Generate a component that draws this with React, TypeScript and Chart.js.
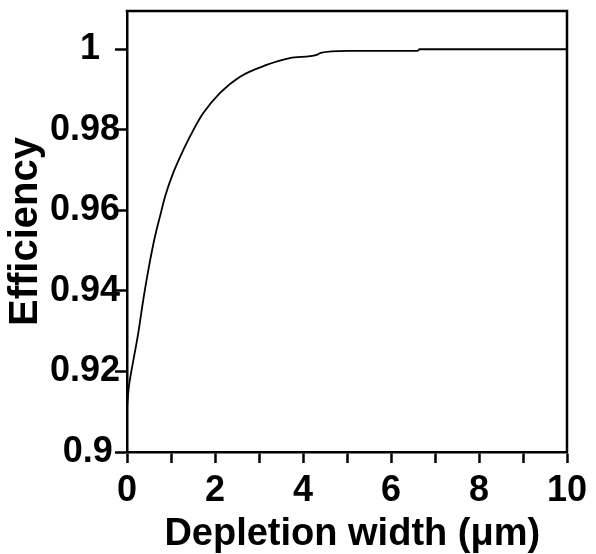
import React, { useEffect, useRef } from "react";
import { Chart, registerables } from "chart.js";

Chart.register(...registerables);

const depletionWidth = [0, 0.015, 0.045, 0.12, 0.257, 0.37, 0.5, 0.636, 0.75, 0.864, 1.05, 1.28, 1.51, 1.73, 2.11, 2.57, 3.17, 3.7, 4.31, 4.4, 5.0, 6.6, 6.65, 10];
const efficiency = [0.911, 0.913, 0.9164, 0.9213, 0.9296, 0.9378, 0.9461, 0.9535, 0.9585, 0.9634, 0.9693, 0.975, 0.98, 0.9841, 0.9891, 0.9932, 0.9961, 0.9978, 0.9986, 0.9991, 0.9996, 0.9996, 1.0, 1.0];
const yTickValues = [0.9, 0.92, 0.94, 0.96, 0.98, 1];
const yTickLabels = ["0.9\u2009", "0.92", "0.94", "0.96", "0.98", "1  "];
const xTickValues = [0, 1, 2, 3, 4, 5, 6, 7, 8, 9, 10];
const xLabelValues = [0, 2, 4, 6, 8, 10];

const FONT = "'Liberation Sans', Arial, sans-serif";

export default function App() {
  const ref = useRef<HTMLCanvasElement>(null);
  useEffect(() => {
    document.body.style.margin = "0";
    const ctx = ref.current!.getContext("2d")!;
    const boxPlugin = {
      id: "box",
      afterDraw(chart: any) {
        const { left, right, top, bottom } = chart.chartArea;
        const c = chart.ctx;
        c.save();
        c.strokeStyle = "#000";
        c.lineWidth = 2.5;
        c.beginPath();
        c.moveTo(left - 1.25, top);
        c.lineTo(right, top);
        c.lineTo(right, bottom);
        c.stroke();
        c.restore();
      },
    };
    const chart = new Chart(ctx, {
      type: "scatter",
      data: {
        datasets: [
          {
            data: depletionWidth.map((x, i) => ({ x, y: efficiency[i] })),
            showLine: true,
            borderColor: "#000",
            borderWidth: 1.8,
            pointRadius: 0,
            cubicInterpolationMode: "monotone",
          },
        ],
      },
      options: {
        animation: false,
        responsive: false,
        events: [],
        layout: { padding: { left: 0, top: 11, right: 29, bottom: 0 } },
        plugins: { legend: { display: false }, tooltip: { enabled: false } },
        scales: {
          x: {
            type: "linear",
            min: 0,
            max: 10,
            afterBuildTicks: (s: any) => {
              s.ticks = xTickValues.map((v) => ({ value: v }));
            },
            afterFit: (s: any) => {
              s.height = 102;
              s.paddingLeft = 0;
              s.paddingRight = 0;
            },
            ticks: {
              autoSkip: false,
              maxRotation: 0,
              color: "#000",
              padding: 6,
              font: { family: FONT, size: 36, weight: "bold" },
              callback: (v: any) => (xLabelValues.includes(Number(v)) ? String(v) : ""),
            },
            grid: { drawOnChartArea: false, drawTicks: true, tickLength: 11, tickWidth: 2.5, color: "#000" },
            border: { display: true, color: "#000", width: 2.5 },
            title: {
              display: true,
              text: " Depletion width (μm)",
              color: "#000",
              font: { family: FONT, size: 38, weight: "bold", lineHeight: 1.0 },
              padding: { top: 0, bottom: 0 },
            },
          },
          y: {
            type: "linear",
            min: 0.9,
            max: 1.0095,
            afterBuildTicks: (s: any) => {
              s.ticks = yTickValues.map((v) => ({ value: v }));
            },
            afterFit: (s: any) => {
              s.width = 127;
              s.paddingTop = 0;
              s.paddingBottom = 0;
            },
            ticks: {
              autoSkip: false,
              color: "#000",
              padding: -5,
              font: { family: FONT, size: 36, weight: "bold" },
              callback: (v: any, i: number) => yTickLabels[i],
            },
            grid: { drawOnChartArea: false, drawTicks: true, tickLength: 12, tickWidth: 2.5, color: "#000" },
            border: { display: true, color: "#000", width: 2.5 },
            title: {
              display: true,
              text: "Efficiency",
              color: "#000",
              font: { family: FONT, size: 40, weight: "bold" },
              padding: { top: 2, bottom: 0 },
            },
          },
        },
      },
      plugins: [boxPlugin],
    } as any);
    return () => chart.destroy();
  }, []);
  return (
    <div style={{ position: "absolute", left: 0, top: 0, width: 596, height: 554 }}>
      <canvas ref={ref} width={596} height={554} style={{ display: "block" }} />
    </div>
  );
}
